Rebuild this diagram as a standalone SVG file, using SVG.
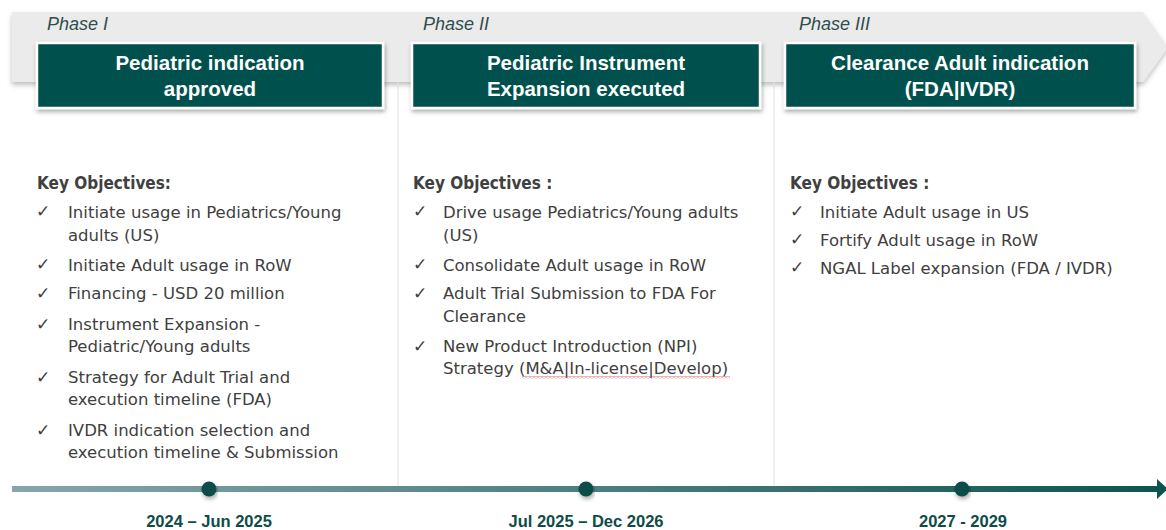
<svg xmlns="http://www.w3.org/2000/svg" width="1166" height="530" viewBox="0 0 1166 530">
<defs>
<filter id="sh" x="-10%" y="-20%" width="120%" height="160%">
<feDropShadow dx="1" dy="2.5" stdDeviation="2" flood-color="#000" flood-opacity="0.35"/>
</filter>
<filter id="shb" x="-5%" y="-20%" width="110%" height="160%">
<feDropShadow dx="0" dy="3" stdDeviation="2.5" flood-color="#000" flood-opacity="0.25"/>
</filter>
<linearGradient id="tl" x1="0" y1="0" x2="1" y2="0">
<stop offset="0" stop-color="#86a6aa"/>
<stop offset="0.5" stop-color="#4d7f80"/>
<stop offset="1" stop-color="#0b5550"/>
</linearGradient>
<pattern id="squig" width="4" height="3" patternUnits="userSpaceOnUse">
<path d="M0,0.5 L2,2.5 L4,0.5" fill="none" stroke="#e04040" stroke-width="0.8"/>
</pattern>
<style>
.phase{font-family:"Liberation Sans",Arial,sans-serif;font-style:italic;font-size:18px;fill:#2f4d4d}
.box{fill:#03514e;stroke:#ffffff;stroke-width:2.5}
.title{font-family:"Liberation Sans",Arial,sans-serif;font-weight:bold;font-size:20.5px;fill:#ffffff;text-anchor:middle}
.head{font-family:"DejaVu Sans Condensed","DejaVu Sans",sans-serif;font-weight:bold;font-size:17px;fill:#404040}
.body{font-family:"DejaVu Sans",Verdana,sans-serif;font-size:16.5px;fill:#404040}
.chk{font-family:"DejaVu Sans",sans-serif;font-size:17px;fill:#404040}
.date{font-family:"Liberation Sans",Arial,sans-serif;font-weight:bold;font-size:16.5px;fill:#0e4c48;text-anchor:middle}
.div{stroke:#e2e2e2;stroke-width:1}
.dot{fill:#0a4d4a}
</style>
</defs>
<rect width="1166" height="530" fill="#ffffff"/>

<g id="band">
<polygon points="12,12 1143,12 1168,47 1143,82 12,82" fill="#ebebeb" filter="url(#shb)"/>
</g>

<g id="dividers">
<line class="div" x1="398" y1="82" x2="398" y2="488"/>
<line class="div" x1="774" y1="82" x2="774" y2="488"/>
</g>

<g id="phase1">
<text class="phase" x="47" y="30">Phase I</text>
<rect class="box" x="37" y="43" width="346" height="65" filter="url(#sh)"/>
<text class="title" x="210" y="70">Pediatric indication</text>
<text class="title" x="210" y="96">approved</text>
<text class="head" x="37" y="189">Key Objectives:</text>
<g class="chk"><text x="36" y="217">✓</text><text x="36" y="270">✓</text><text x="36" y="299">✓</text><text x="36" y="330">✓</text><text x="36" y="383">✓</text><text x="36" y="436">✓</text></g>
<text class="body" x="68" y="218">Initiate usage in Pediatrics/Young</text>
<text class="body" x="68" y="241">adults (US)</text>
<text class="body" x="68" y="271">Initiate Adult usage in RoW</text>
<text class="body" x="68" y="299">Financing - USD 20 million</text>
<text class="body" x="68" y="330">Instrument Expansion -</text>
<text class="body" x="68" y="352">Pediatric/Young adults</text>
<text class="body" x="68" y="383">Strategy for Adult Trial and</text>
<text class="body" x="68" y="405">execution timeline (FDA)</text>
<text class="body" x="68" y="436">IVDR indication selection and</text>
<text class="body" x="68" y="458">execution timeline &amp; Submission</text>
</g>

<g id="phase2">
<text class="phase" x="423" y="30">Phase II</text>
<rect class="box" x="412" y="43" width="348" height="65" filter="url(#sh)"/>
<text class="title" x="586" y="70">Pediatric Instrument</text>
<text class="title" x="586" y="96">Expansion executed</text>
<text class="head" x="413" y="189">Key Objectives :</text>
<g class="chk"><text x="413" y="217">✓</text><text x="413" y="270">✓</text><text x="413" y="299">✓</text><text x="413" y="352">✓</text></g>
<text class="body" x="443" y="218">Drive usage Pediatrics/Young adults</text>
<text class="body" x="443" y="241">(US)</text>
<text class="body" x="443" y="271">Consolidate Adult usage in RoW</text>
<text class="body" x="443" y="299">Adult Trial Submission to FDA For</text>
<text class="body" x="443" y="322">Clearance</text>
<text class="body" x="443" y="352">New Product Introduction (NPI)</text>
<text class="body" x="443" y="374">Strategy (M&amp;A|In-license|Develop)</text>
<rect x="522" y="376" width="208" height="3" fill="url(#squig)"/>
</g>

<g id="phase3">
<text class="phase" x="799" y="30">Phase III</text>
<rect class="box" x="785" y="43" width="350" height="65" filter="url(#sh)"/>
<text class="title" x="960" y="70">Clearance Adult indication</text>
<text class="title" x="960" y="96">(FDA|IVDR)</text>
<text class="head" x="790" y="189">Key Objectives :</text>
<g class="chk"><text x="790" y="217">✓</text><text x="790" y="245">✓</text><text x="790" y="273">✓</text></g>
<text class="body" x="820" y="218">Initiate Adult usage in US</text>
<text class="body" x="820" y="246">Fortify Adult usage in RoW</text>
<text class="body" x="820" y="274">NGAL Label expansion (FDA / IVDR)</text>
</g>

<g id="connectors">
<rect x="12" y="486" width="1148" height="6" fill="url(#tl)"/>
<polygon points="1157,479 1168,489 1157,499" fill="#0b5550"/>
</g>

<g id="milestones">
<circle class="dot" cx="209" cy="489" r="7.5" filter="url(#sh)"/>
<circle class="dot" cx="586" cy="489" r="7.5" filter="url(#sh)"/>
<circle class="dot" cx="962" cy="489" r="7.5" filter="url(#sh)"/>
<text class="date" x="209" y="527">2024 – Jun 2025</text>
<text class="date" x="586" y="527">Jul 2025 – Dec 2026</text>
<text class="date" x="963" y="527">2027 - 2029</text>
</g>
</svg>
